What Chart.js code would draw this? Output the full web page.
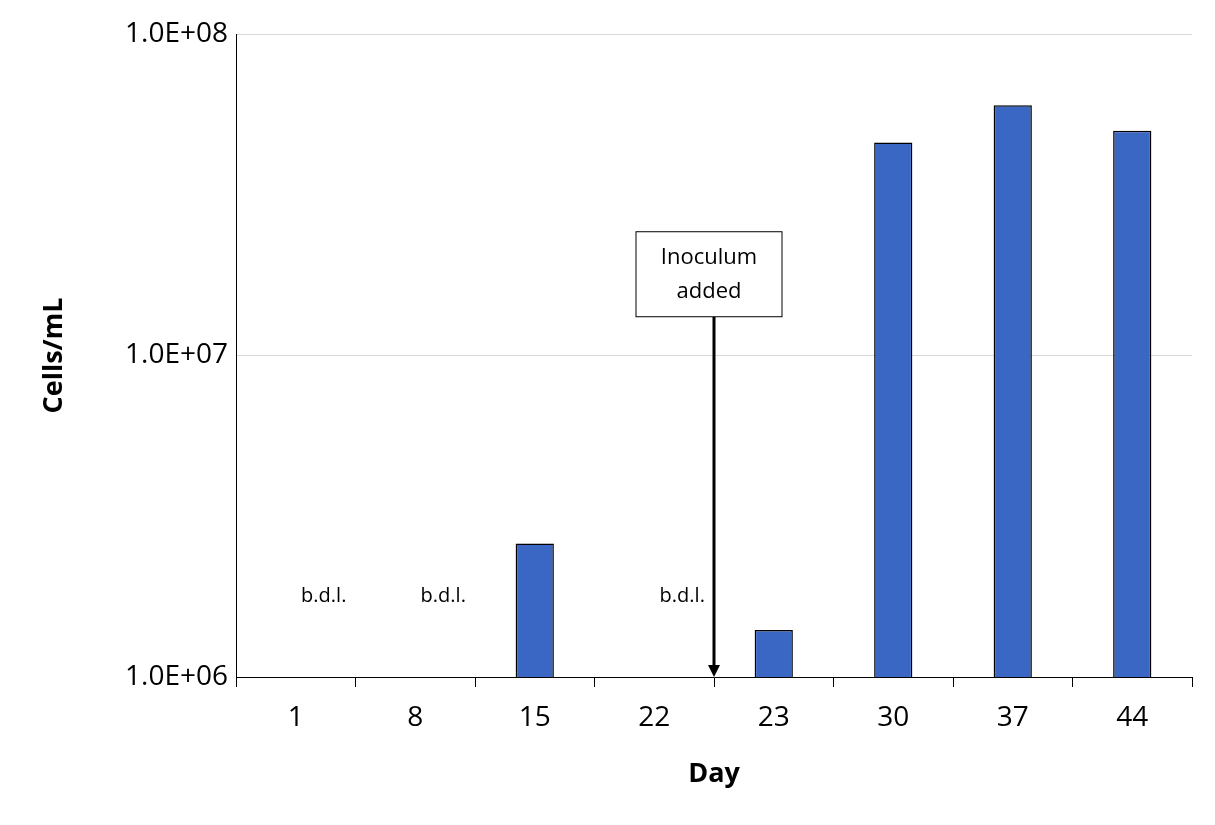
<!DOCTYPE html>
<html>
<head>
<meta charset="utf-8">
<script src="https://cdn.jsdelivr.net/npm/chart.js@4/dist/chart.umd.min.js"></script>
<style>
  html, body { margin: 0; padding: 0; background: #fff; }
  #wrap { width: 1215px; height: 825px; }
</style>
</head>
<body>
<div id="wrap"><canvas id="chart"></canvas></div>
<script>
const days = ["1", "8", "15", "22", "23", "30", "37", "44"];
const cells = [null, null, 2.6e6, null, 1.4e6, 4.6e7, 6.0e7, 5.0e7];
const bdlDays = ["1", "8", "22"];
const yTicks = [1e6, 1e7, 1e8];

const fontFam = "'Open Sans', 'Liberation Sans', sans-serif";

const annotations = {
    id: "annotations",
    afterDatasetsDraw(chart) {
        const { ctx, scales: { x, y } } = chart;
        ctx.save();
        ctx.fillStyle = "#000";
        ctx.font = "20px " + fontFam;
        ctx.textAlign = "center";
        ctx.textBaseline = "middle";
        bdlDays.forEach(d => {
            ctx.fillText("b.d.l.", x.getPixelForValue(days.indexOf(d)) + 28, y.getPixelForValue(1.78e6));
        });

        // arrow between day 22 and 23
        const ax = (x.getPixelForValue(3) + x.getPixelForValue(4)) / 2;
        const yBottom = y.getPixelForValue(1e6);
        const yStart = y.getPixelForValue(1.32e7);
        ctx.strokeStyle = "#000";
        ctx.lineWidth = 3;
        ctx.beginPath();
        ctx.moveTo(ax, yStart);
        ctx.lineTo(ax, yBottom - 10);
        ctx.stroke();
        ctx.beginPath();
        ctx.moveTo(ax, yBottom);
        ctx.lineTo(ax - 6, yBottom - 12);
        ctx.lineTo(ax + 6, yBottom - 12);
        ctx.closePath();
        ctx.fill();

        // label box
        const bw = 146, bh = 85;
        const by = yStart - bh;
        ctx.fillStyle = "#fff";
        ctx.fillRect(ax - 78, by, bw, bh);
        ctx.lineWidth = 1;
        ctx.strokeRect(ax - 78, by, bw, bh);
        ctx.fillStyle = "#000";
        ctx.font = "22px " + fontFam;
        ctx.fillText("Inoculum", ax - 5, by + 26);
        ctx.fillText("added", ax - 5, by + 60);
        ctx.restore();
    }
};

new Chart(document.getElementById("chart"), {
    type: "bar",
    data: {
        labels: days,
        datasets: [{
            data: cells,
            backgroundColor: "#3b67c4",
            borderColor: "#000",
            borderWidth: 1.5,
            barPercentage: 1,
            categoryPercentage: 0.32,
        }],
    },
    options: {
        responsive: true,
        maintainAspectRatio: false,
        animation: false,
        layout: { padding: { top: 34, right: 23, left: 34, bottom: 30 } },
        plugins: { legend: { display: false }, tooltip: { enabled: false } },
        scales: {
            x: {
                grid: { offset: true, drawOnChartArea: false, color: "#000", tickLength: 10 },
                border: { color: "#000" },
                ticks: { color: "#000", font: { size: 28, family: fontFam }, padding: 14 },
                title: { display: true, text: "Day", color: "#000", font: { size: 27, weight: "bold", family: fontFam }, padding: { top: 6 } },
                afterFit(scale) { scale.height = 825 - 677 - 30; },
            },
            y: {
                type: "logarithmic",
                min: 1e6,
                max: 1e8,
                afterBuildTicks(scale) { scale.ticks = yTicks.map(v => ({ value: v })); },
                grid: { color: "#d9d9d9", tickLength: 0 },
                border: { color: "#000" },
                ticks: {
                    color: "#000",
                    font: { size: 28, family: fontFam },
                    padding: 8,
                    callback: v => {
                        const e = Math.round(Math.log10(v));
                        return "1.0E+" + String(e).padStart(2, "0");
                    },
                },
                title: { display: true, text: "Cells/mL", color: "#000", font: { size: 27, weight: "bold", family: fontFam } },
                afterFit(scale) { scale.width = 236 - 34; },
            },
        },
    },
    plugins: [annotations],
});
</script>
</body>
</html>
